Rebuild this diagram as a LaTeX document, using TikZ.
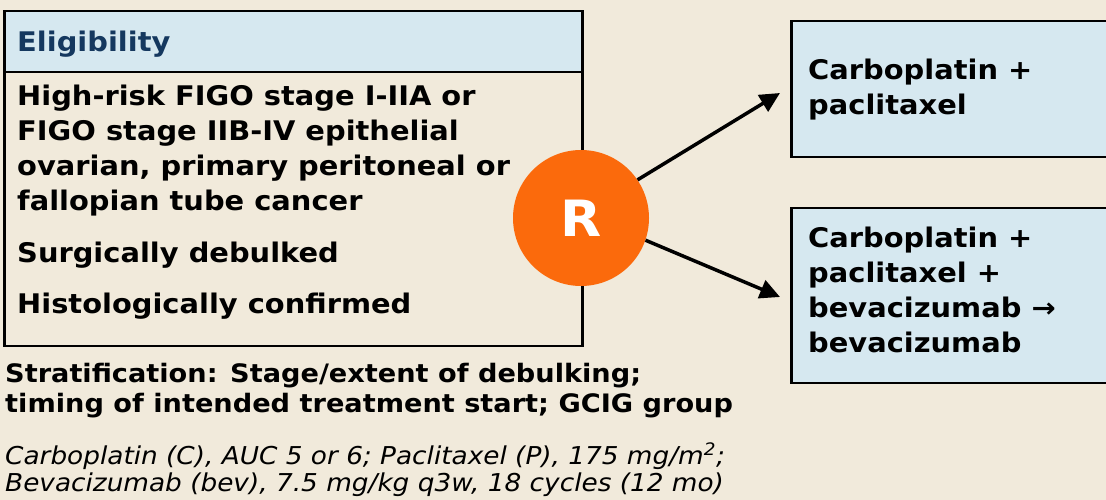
\documentclass[tikz,border=0pt]{standalone}
\usepackage{fontspec}
\setmainfont[FakeStretch=1.07]{DejaVu Sans}
\usepackage{xcolor}
\usetikzlibrary{positioning,arrows.meta}
\definecolor{bgcream}{HTML}{F1EADB}
\definecolor{boxblue}{HTML}{D6E8F0}
\definecolor{headblue}{HTML}{15385F}
\definecolor{rorange}{HTML}{FB6A0C}
\tikzset{
  box/.style={draw=black, line width=2.5pt, fill=boxblue, rectangle, inner sep=0pt, anchor=north west},
  bodytext/.style={font=\fontsize{27}{35}\selectfont\bfseries, anchor=base west, inner sep=0pt, align=left},
  strattext/.style={font=\fontsize{25.4}{30}\selectfont\bfseries, anchor=base west, inner sep=0pt, align=left},
  notetext/.style={font=\fontsize{24.6}{27}\selectfont\itshape, anchor=base west, inner sep=0pt, align=left},
  arm/.style={line width=3.5pt, -{Triangle[length=20pt,width=19pt]}}
}
\begin{document}
\begin{tikzpicture}[x=1pt, y=1pt]
    \useasboundingbox (0,0) rectangle (1106,500);
    \fill[bgcream] (0,0) rectangle (1106,500);
    \clip (0,0) rectangle (1106,500);

    % eligibility box
    \node[box, fill=boxblue, minimum width=578pt, minimum height=61pt] (elighead) at (3,490) {};
    \node[box, fill=bgcream, minimum width=578pt, minimum height=274pt] (eligbody) at (3,429) {};
    \node[bodytext, text=headblue] (eligtitle) at (17,448) {Eligibility};
    \node[bodytext] (crit1) at (17,289) {High-risk FIGO stage I-IIA or\\FIGO stage IIB-IV epithelial\\ovarian, primary peritoneal or\\fallopian tube cancer};
    \node[bodytext] (crit2) at (17,237) {Surgically debulked};
    \node[bodytext] (crit3) at (17,186) {Histologically confirmed};

    % treatment arms
    \node[box, minimum width=330pt, minimum height=136pt] (armA) at (790,480) {};
    \node[box, minimum width=330pt, minimum height=175pt] (armB) at (790,293) {};
    \node[bodytext] (armAtext) at (808,385) {Carboplatin +\\paclitaxel};
    \node[bodytext] (armBtext) at (808,147) {Carboplatin +\\paclitaxel +\\bevacizumab →\\bevacizumab};

    % randomisation
    \node[circle, fill=rorange, minimum size=136pt, inner sep=0pt, text=white,
          font=\fontsize{50}{50}\selectfont\bfseries] (R) at (581,282) {R};
    \coordinate (tipA) at (780,407);
    \coordinate (tipB) at (780,203);
    \draw[arm] (R.34) -- (tipA);
    \draw[arm] (R.-19) -- (tipB);

    % notes
    \node[strattext] (strat) at (5,87) {Stratification: Stage/extent of debulking;\\timing of intended treatment start; GCIG group};
    \node[notetext] (dosing) at (5,8) {Carboplatin (C), AUC 5 or 6; Paclitaxel (P), 175 mg/m\textsuperscript{2};\\Bevacizumab (bev), 7.5 mg/kg q3w, 18 cycles (12 mo)};
\end{tikzpicture}
\end{document}
